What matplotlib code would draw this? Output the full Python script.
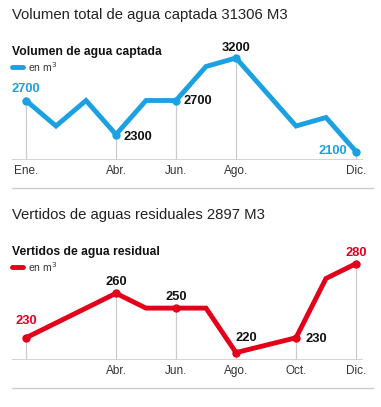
import matplotlib.pyplot as plt

plt.rcParams['font.family'] = ['Liberation Sans', 'DejaVu Sans']

# datos
meses = ["Ene.", "Feb.", "Mar.", "Abr.", "May.", "Jun.", "Jul.", "Ago.", "Sep.", "Oct.", "Nov.", "Dic."]
captada = [2700, 2400, 2700, 2300, 2700, 2700, 3100, 3200, 2800, 2400, 2500, 2100]
vertidos = [230, 240, 250, 260, 250, 250, 250, 220, 225, 230, 270, 280]
marcas_captada = [0, 3, 5, 7, 11]
marcas_vertidos = [0, 3, 5, 7, 9, 11]
ticks_captada = [0, 3, 5, 7, 11]
ticks_vertidos = [3, 5, 7, 9, 11]

AZUL = "#1ba1e2"
ROJO = "#e3001b"
GRIS = "#cccccc"

W, H = 381, 407
fig = plt.figure(figsize=(W / 100, H / 100), dpi=100)


def px(x, y):
    # pixel (desde arriba-izquierda) -> fraccion de figura
    return x / W, 1 - y / H


def bloque(y0, titulo, subtitulo, datos, color, marcas, ticks, ylim, base, top, etiquetas):
    fig.text(*px(12, y0 + 15), titulo, fontsize=10.7, color="#222222", va="center")
    fig.text(*px(12, y0 + 52), subtitulo, fontsize=8.7, fontweight="bold", color="#111111", va="center")
    x1, y1 = px(12, y0 + 67)
    x2, _ = px(23, y0 + 67)
    fig.add_artist(plt.Line2D([x1, x2], [y1, y1], color=color, lw=3.5, solid_capstyle="round"))
    fig.text(*px(28, y0 + 67), "en m$^3$", fontsize=7.5, color="#333333", va="center")

    l, b = px(12, y0 + base)
    r, t = px(363, y0 + top)
    ax = fig.add_axes([l, b, r - l, t - b])
    ax.set_xlim(-14 / 30, 11 + 7 / 30)
    ax.set_ylim(*ylim)
    ax.axis("off")
    ax.axhline(ylim[0], color=GRIS, lw=1.2, zorder=1)
    for i in marcas:
        ax.vlines(i, ylim[0], datos[i], color=GRIS, lw=0.9, zorder=1)
    ax.plot(range(12), datos, color=color, lw=3.5, solid_joinstyle="miter", zorder=3)
    ax.plot(marcas, [datos[i] for i in marcas], "o", color=color, ms=5, zorder=4)
    for i in ticks:
        ax.annotate(meses[i], (i, ylim[0]), xytext=(0, -11), textcoords="offset pixels",
                    fontsize=8.5, color="#333333", ha="center", va="center")
    for i, dx, dy, ha, c in etiquetas:
        ax.annotate(str(datos[i]), (i, datos[i]), xytext=(dx, dy), textcoords="offset pixels",
                    ha=ha, va="center", fontsize=9.3, fontweight="bold", color=c)
    # separador
    sx1, sy = px(12, y0 + 188)
    sx2, _ = px(373, y0 + 188)
    fig.add_artist(plt.Line2D([sx1, sx2], [sy, sy], color=GRIS, lw=1))
    return ax


ax1 = bloque(0, "Volumen total de agua captada 31306 M3", "Volumen de agua captada",
             captada, AZUL, marcas_captada, ticks_captada, (2000, 3400), 160, 41,
             [(0, 0, 12, "center", AZUL), (3, 8, -2, "left", "#111111"),
              (5, 8, -1, "left", "#111111"), (7, 0, 10, "center", "#111111"),
              (11, -9, 0, "right", AZUL)])

ax2 = bloque(200, "Vertidos de aguas residuales 2897 M3", "Vertidos de agua residual",
             vertidos, ROJO, marcas_vertidos, ticks_vertidos, (215, 300), 160, 34,
             [(0, 0, 17, "center", ROJO), (3, 0, 11, "center", "#111111"),
              (5, 0, 11, "center", "#111111"), (7, 10, 15, "center", "#111111"),
              (9, 10, -1, "left", "#111111"), (11, 0, 11, "center", ROJO)])

fig.savefig("out.png", dpi=100)
